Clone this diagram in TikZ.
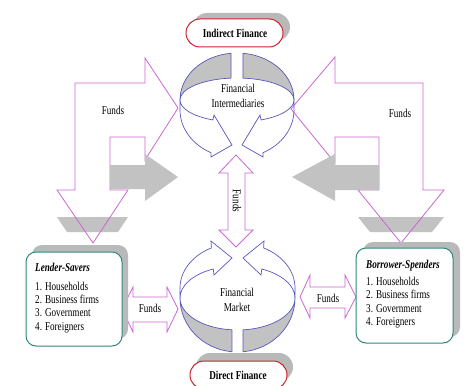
\documentclass[tikz,border=0pt]{standalone}
\usepackage{fontspec}
\setmainfont{Liberation Serif}[FakeStretch=0.76]
\definecolor{pinkc}{RGB}{204,102,210}
\definecolor{loopc}{RGB}{88,88,190}
\definecolor{grayf}{RGB}{194,194,194}
\definecolor{shadowc}{RGB}{185,185,185}
\definecolor{tealc}{RGB}{50,135,125}
\definecolor{redc}{RGB}{205,35,45}
\newcommand\toploopside{%
 \path[loopline,fill=grayf] (-57,0) arc[start angle=180,end angle=264,x radius=57,y radius=47] -- (-5.96,-21.88) arc[start angle=264,end angle=180,x radius=57,y radius=22] -- cycle;
 \path[loopline] (-57,0) arc[start angle=180,end angle=115,x radius=57,y radius=22] -- (-23,15) -- (-5,45) -- (-26,57) -- (-25.88,52.77) arc[start angle=117,end angle=180,x radius=57,y radius=48] -- cycle;
}
\newcommand\botloopside{%
 \path[loopline,fill=grayf] (-57.5,0) arc[start angle=180,end angle=95.5,x radius=57.5,y radius=54] -- (-5.51,31.85) arc[start angle=95.5,end angle=180,x radius=57.5,y radius=32] -- cycle;
 \path[loopline] (-57.5,0) arc[start angle=180,end angle=245,x radius=57.5,y radius=32] -- (-23.5,-23) -- (-5.5,-40) -- (-26.5,-57) -- (-26.1,-50.1) arc[start angle=243,end angle=180,x radius=57.5,y radius=45] -- cycle;
}
\begin{document}
\begin{tikzpicture}[x=1pt,y=-1pt,
  pinkarrow/.style={draw=pinkc, line width=0.8pt, line join=miter},
  loopline/.style={draw=loopc, line width=0.7pt},
  txt/.style={font=\fontsize{12}{15}\selectfont, inner sep=0pt},
  boldtxt/.style={font=\fontsize{12}{15}\selectfont\bfseries, inner sep=0pt},
  titletxt/.style={font=\fontsize{12}{15}\selectfont\bfseries\itshape, inner sep=0pt, anchor=base west},
  listtxt/.style={font=\fontsize{12}{13.4}\selectfont, inner sep=0pt, align=left, anchor=north west},
  groupbox/.style={draw=tealc, line width=1pt, fill=white, rounded corners=10pt},
  groupshadow/.style={fill=shadowc, draw=none, rounded corners=10pt},
  stadium/.style={draw=redc, line width=1pt, fill=white, rounded corners=14pt},
  stadshadow/.style={fill=shadowc, draw=none, rounded corners=14pt}]
\clip (0,0) rectangle (465,385);
\fill[white] (0,0) rectangle (465,385);

% gray shadows of down arrowheads
\fill[grayf] (57,217) -- (128,217) -- (118,232) -- (67,232) -- cycle;
\fill[grayf] (358,217) -- (444,217) -- (432,232) -- (370,232) -- cycle;

% big bent arrows
\path[pinkarrow] (75,190) -- (75,83) -- (145,83) -- (145,58) -- (178,108) -- (145,160) -- (145,137) -- (110,137) -- (110,190) -- (128,190) -- (93,243) -- (57,190) -- cycle;
\path[pinkarrow] (423,190) -- (423,83) -- (335,83) -- (335,57) -- (291,109) -- (335,163) -- (335,137) -- (379,137) -- (379,190) -- (358,190) -- (401,243) -- (444,190) -- cycle;

% gray horizontal arrows
\fill[grayf] (110,165) -- (145,165) -- (145,154) -- (178,177) -- (145,201) -- (145,189) -- (110,189) -- cycle;
\fill[grayf] (379,165) -- (335,165) -- (335,154) -- (292,177) -- (335,201) -- (335,190) -- (379,190) -- cycle;

% circular arrows
\begin{scope}[shift={(237,100)}]\toploopside\end{scope}
\begin{scope}[shift={(237,100)},xscale=-1]\toploopside\end{scope}
\begin{scope}[shift={(237.5,298)}]\botloopside\end{scope}
\begin{scope}[shift={(237.5,298)},xscale=-1]\botloopside\end{scope}

% vertical double arrow
\path[pinkarrow,fill=white] (236,155) -- (253,173) -- (245,173) -- (245,230) -- (253,230) -- (236,247) -- (219,230) -- (228,230) -- (228,173) -- (219,173) -- cycle;
% horizontal double arrows
\path[pinkarrow,fill=white] (122,309) -- (133,287) -- (133,297) -- (167,297) -- (167,287) -- (178,309) -- (167,332) -- (167,322) -- (133,322) -- (133,332) -- cycle;
\path[pinkarrow,fill=white] (300,297) -- (310,275) -- (310,287) -- (345,287) -- (345,275) -- (356,297) -- (345,318) -- (345,308) -- (310,308) -- (310,318) -- cycle;

% boxes
\fill[groupshadow] (32,245) rectangle (128,339);
\path[groupbox] (26,252) rectangle (122,346);
\fill[groupshadow] (363,242) rectangle (460,337);
\path[groupbox] (356,248) rectangle (453,343);

% stadiums
\fill[stadshadow] (193,13) rectangle (290,41);
\path[stadium] (186,19) rectangle (283,47);
\fill[stadshadow] (196,353) rectangle (293,381);
\path[stadium] (190,361) rectangle (287,389);

% texts
\node[boldtxt] (indirect) at (235,33) {Indirect Finance};
\node[boldtxt] (direct) at (238,375) {Direct Finance};
\node[txt,align=center] (fi) at (238,95.5) {Financial\\Intermediaries};
\node[txt,align=center] (fm) at (237,299.5) {Financial\\Market};
\node[txt] (fundsL) at (113,110) {Funds};
\node[txt] (fundsR) at (400,113) {Funds};
\node[txt,rotate=-90] (fundsM) at (237,201) {Funds};
\node[txt] (fundsHL) at (150,308) {Funds};
\node[txt] (fundsHR) at (328,298) {Funds};
\node[titletxt] (lstitle) at (35,271.5) {Lender-Savers};
\node[listtxt] (lslist) at (35,281.5) {1. Households\\2. Business firms\\3. Government\\4. Foreigners};
\node[titletxt] (bstitle) at (366,268.5) {Borrower-Spenders};
\node[listtxt] (bslist) at (366,277) {1. Households\\2. Business firms\\3. Government\\4. Foreigners};
\end{tikzpicture}
\end{document}
